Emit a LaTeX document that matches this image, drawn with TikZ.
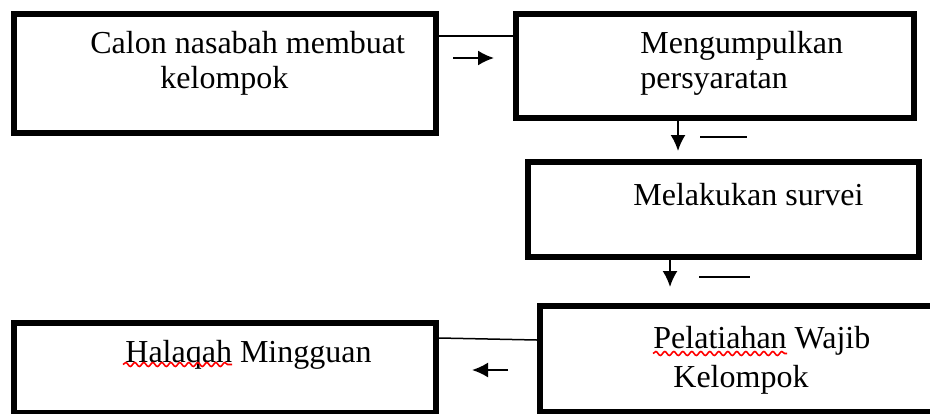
\documentclass[tikz,border=0pt]{standalone}
\usepackage{fontspec}
\setmainfont{Liberation Serif}
\usepackage{tikz}
\usetikzlibrary{arrows.meta,decorations.pathmorphing}

\tikzset{
  box/.style={draw, line width=3pt, inner sep=0pt},
  txt/.style={anchor=base west, inner sep=0pt, font=\fontsize{16}{18}\selectfont},
  link/.style={line width=0.75pt},
  arr/.style={line width=1pt, -{Latex[length=8pt,width=7.5pt]}},
  dash line/.style={line width=1pt},
  spell/.style={red, line width=0.8pt, decorate,
    decoration={snake, segment length=4.5pt, amplitude=1pt}}
}

\begin{document}
\begin{tikzpicture}[x=0.5pt, y=-0.5pt]
  \useasboundingbox (0,0) rectangle (930,413);
  \clip (0,0) rectangle (930,413);

  % boxes
  \node[box, minimum width=211pt, minimum height=59.5pt] (calon) at (225,73.5) {};
  \node[box, minimum width=199pt, minimum height=52pt] (kumpul) at (715,66) {};
  \node[box, minimum width=195.5pt, minimum height=47.5pt] (survei) at (723.5,209.5) {};
  \node[box, minimum width=200pt, minimum height=53pt] (latih) at (740,359) {};
  \node[box, minimum width=211pt, minimum height=45pt] (halaqah) at (225,368) {};

  % texts
  \node[txt] (calon-a) at (90,53) {Calon nasabah membuat};
  \node[txt] (calon-b) at (160,88) {kelompok};
  \node[txt] (kumpul-a) at (640,53) {Mengumpulkan};
  \node[txt] (kumpul-b) at (640,88) {persyaratan};
  \node[txt] (survei-a) at (633,205) {Melakukan survei};
  \node[txt] (latih-a) at (653,348) {Pelatiahan Wajib};
  \node[txt] (latih-b) at (673,387) {Kelompok};
  \node[txt] (halaqah-a) at (125,362) {Halaqah Mingguan};

  % spelling marks
  \coordinate (sp1a) at (123,364.5);
  \coordinate (sp1b) at (232,364.5);
  \coordinate (sp2a) at (653,353.5);
  \coordinate (sp2b) at (787,353.5);
  \draw[spell] (sp1a) -- (sp1b);
  \draw[spell] (sp2a) -- (sp2b);

  % lines between boxes
  \draw[link] ([yshift=-12.5pt]calon.north east) -- ([yshift=-12.5pt]kumpul.north west);
  \draw[link] ([yshift=-9pt]halaqah.north east) -- ([yshift=-18.5pt]latih.north west);

  % loose arrows
  \coordinate (a1s) at (453,58);
  \coordinate (a1e) at (494,58);
  \coordinate (a2s) at (678,121);
  \coordinate (a2e) at (678,151);
  \coordinate (d2s) at (700,137);
  \coordinate (d2e) at (747,137);
  \coordinate (a3s) at (670,259);
  \coordinate (a3e) at (670,287);
  \coordinate (d3s) at (699,277);
  \coordinate (d3e) at (750,277);
  \coordinate (a5s) at (508,370);
  \coordinate (a5e) at (472,370);
  \draw[arr] (a1s) -- (a1e);
  \draw[arr] (a2s) -- (a2e);
  \draw[dash line] (d2s) -- (d2e);
  \draw[arr] (a3s) -- (a3e);
  \draw[dash line] (d3s) -- (d3e);
  \draw[arr] (a5s) -- (a5e);
\end{tikzpicture}
\end{document}
